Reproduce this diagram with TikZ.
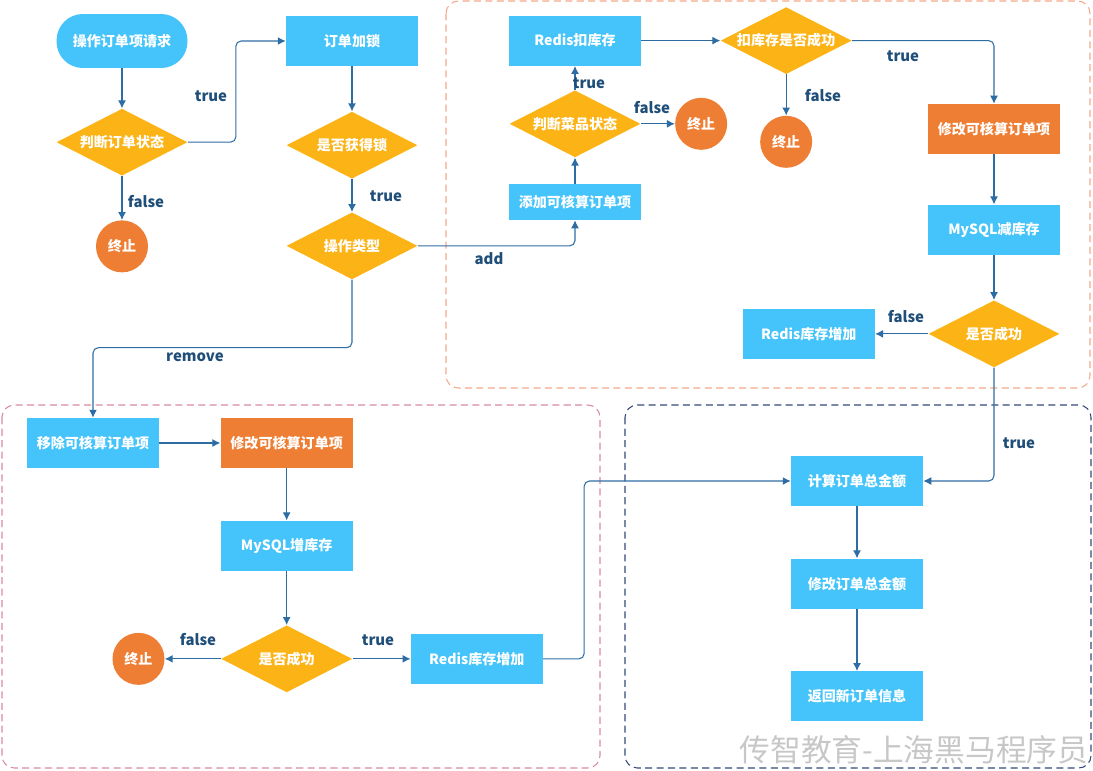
\documentclass[tikz,border=0pt]{standalone}
\usepackage{fontspec}
\setmainfont{Noto Sans CJK SC}
\usetikzlibrary{arrows.meta, positioning, shapes.geometric}

\definecolor{boxblue}{HTML}{44C4FA}
\definecolor{diagold}{HTML}{FCB316}
\definecolor{termorange}{HTML}{EE7E33}
\definecolor{linecol}{HTML}{2E6DA4}
\definecolor{labelcol}{HTML}{1F4E79}
\definecolor{grouporange}{HTML}{F5A98A}
\definecolor{grouppink}{HTML}{D98A9E}
\definecolor{groupnavy}{HTML}{34497A}

\begin{document}
\begin{tikzpicture}[
    x=0.02cm, y=-0.02cm,
    boxfont/.style={font=\fontsize{8}{10}\selectfont\bfseries, text=white},
    process/.style={rectangle, fill=boxblue, boxfont, minimum width=2.64cm, minimum height=1cm, inner sep=0pt},
    changebox/.style={process, fill=termorange},
    startbox/.style={process, rounded corners=15pt, minimum width=2.62cm, minimum height=1.08cm},
    decision/.style={diamond, aspect=1.95, fill=diagold, boxfont, minimum width=2.62cm, minimum height=1.34cm, inner sep=0pt},
    stopnode/.style={circle, fill=termorange, boxfont, minimum size=1.04cm, inner sep=0pt},
    arrow/.style={-{Latex[length=4.5pt, width=4.5pt]}, line width=0.6pt, draw=linecol, rounded corners=3pt},
    condlabel/.style={font=\fontsize{8.5}{10}\selectfont\bfseries, text=labelcol, inner sep=0pt},
    groupbox/.style={dashed, dash pattern=on 4pt off 2.5pt, line width=0.6pt, rounded corners=7pt}
]
\useasboundingbox (0,0) rectangle (1093,771);

% 分组框
\draw[groupbox, draw=grouporange] (446,1) rectangle (1090,388);
\draw[groupbox, draw=grouppink] (2,405) rectangle (600,768);
\draw[groupbox, draw=groupnavy] (625,405) rectangle (1091,768);

% 订单状态
\node[startbox] (start) at (122,41) {操作订单项请求};
\node[decision, below=0.8cm of start] (checkorder) {判断订单状态};
\node[stopnode, below=0.88cm of checkorder] (stop1) {终止};

% 加锁
\node[process] (lock) at (352,41) {订单加锁};
\node[decision, below=0.9cm of lock] (getlock) {是否获得锁};
\node[decision, below=0.66cm of getlock] (optype) {操作类型};

% add
\node[process, minimum height=0.72cm] (additem) at (575,202) {添加可核算订单项};
\node[decision, above=0.52cm of additem] (checkdish) {判断菜品状态};
\node[process, above=0.48cm of checkdish] (redisdeduct) {Redis扣库存};
\node[stopnode, right=0.68cm of checkdish] (stop2) {终止};
\node[decision, right=1.58cm of redisdeduct] (deductok) {扣库存是否成功};
\node[stopnode, below=0.82cm of deductok] (stop3) {终止};
\node[changebox] (modify1) at (994,129) {修改可核算订单项};
\node[process, below=1cm of modify1] (mysqldec) {MySQL减库存};
\node[decision, below=0.9cm of mysqldec] (decok) {是否成功};
\node[process, left=1.06cm of decok] (redisadd1) {Redis库存增加};

% remove
\node[process] (removeitem) at (93,443) {移除可核算订单项};
\node[changebox, right=1.22cm of removeitem] (modify2) {修改可核算订单项};
\node[process, below=1.04cm of modify2] (mysqlinc) {MySQL增库存};
\node[decision, below=1.08cm of mysqlinc] (incok) {是否成功};
\node[stopnode, left=1.12cm of incok] (stop4) {终止};
\node[process, right=1.16cm of incok] (redisadd2) {Redis库存增加};

% 总金额
\node[process] (calctotal) at (857,481) {计算订单总金额};
\node[process, below=1.04cm of calctotal] (updatetotal) {修改订单总金额};
\node[process, below=1.24cm of updatetotal] (returninfo) {返回新订单信息};

% 连接箭头
\draw[arrow] (start) -- (checkorder);
\draw[arrow] (checkorder.east) -- ++(48,0) |- (lock.west);
\draw[arrow] (checkorder) -- (stop1);
\draw[arrow] (lock) -- (getlock);
\draw[arrow] (getlock) -- (optype);
\draw[arrow] (optype.east) -| (additem.south);
\draw[arrow] (optype.south) -- ++(0,68) -| (removeitem.north);
\draw[arrow] (additem) -- (checkdish);
\draw[arrow] (checkdish) -- (redisdeduct);
\draw[arrow] (checkdish) -- (stop2);
\draw[arrow] (redisdeduct) -- (deductok);
\draw[arrow] (deductok) -- (stop3);
\draw[arrow] (deductok.east) -| (modify1.north);
\draw[arrow] (modify1) -- (mysqldec);
\draw[arrow] (mysqldec) -- (decok);
\draw[arrow] (decok) -- (redisadd1);
\draw[arrow] (decok.south) |- (calctotal.east);
\draw[arrow] (removeitem) -- (modify2);
\draw[arrow] (modify2) -- (mysqlinc);
\draw[arrow] (mysqlinc) -- (incok);
\draw[arrow] (incok) -- (stop4);
\draw[arrow] (incok) -- (redisadd2);
\draw[arrow] (redisadd2.east) -- ++(41,0) |- (calctotal.west);
\draw[arrow] (calctotal) -- (updatetotal);
\draw[arrow] (updatetotal) -- (returninfo);

% 条件标签
\node[condlabel] (t1) at (211,96) {true};
\node[condlabel] (f1) at (146,202) {false};
\node[condlabel] (t2) at (386,196) {true};
\node[condlabel] (addlbl) at (489,259) {add};
\node[condlabel] (rmlbl) at (195,357) {remove};
\node[condlabel] (t3) at (589,83) {true};
\node[condlabel] (f2) at (652,108) {false};
\node[condlabel] (f3) at (823,96) {false};
\node[condlabel] (t4) at (903,56) {true};
\node[condlabel] (f4) at (906,317) {false};
\node[condlabel] (t5) at (1019,443) {true};
\node[condlabel] (f5) at (198,640) {false};
\node[condlabel] (t6) at (378,640) {true};

% 水印
\node[font=\fontsize{17.5}{18}\selectfont, text=black!22, inner sep=0pt] (mark) at (914,750) {传智教育-上海黑马程序员};
\end{tikzpicture}
\end{document}
